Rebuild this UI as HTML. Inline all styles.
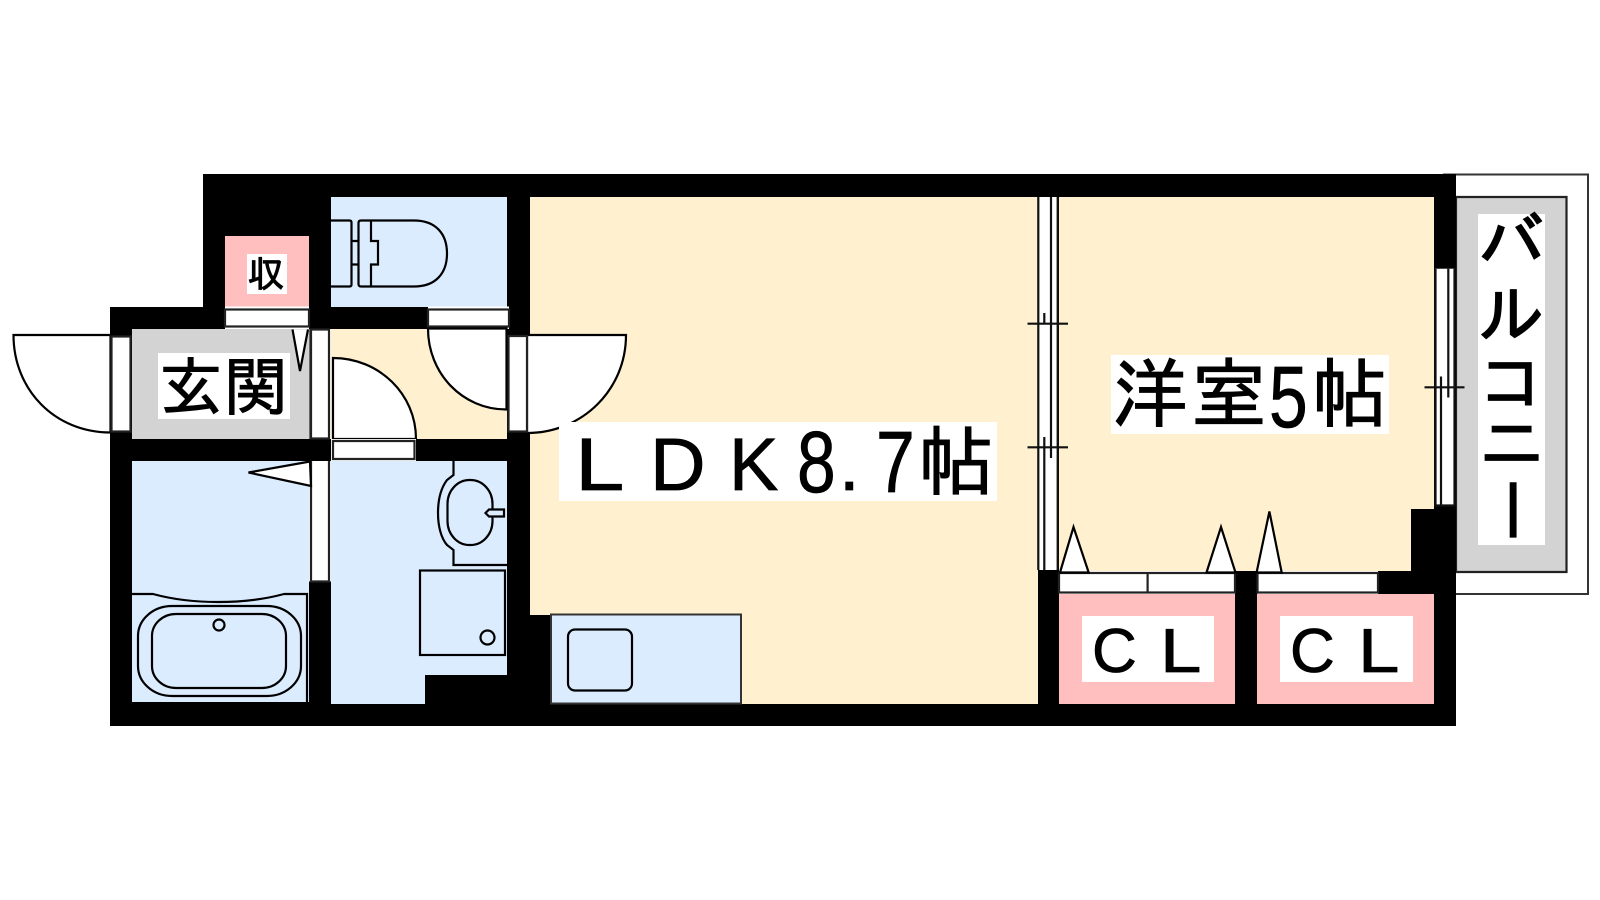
<!DOCTYPE html>
<html><head><meta charset="utf-8"><style>
html,body{margin:0;padding:0;background:#fff}
svg{display:block}
.j{font-family:"IPAGothic","Noto Sans CJK JP",sans-serif;text-anchor:middle;fill:#000;stroke:#000;stroke-width:1}
.l{font-family:"Liberation Sans",sans-serif;fill:#000;stroke:#000;stroke-width:.8}
.s{fill:none;stroke:#000;stroke-width:2.2}
.f{stroke:#222;stroke-width:2.2;fill:#fff}
.b{fill:#dcecff;stroke:#000;stroke-width:2.2}
</style></head><body>
<svg width="1600" height="900" viewBox="0 0 1600 900" xmlns="http://www.w3.org/2000/svg">
<rect width="1600" height="900" fill="#fff"/>

<!-- balcony -->
<path d="M1443 174.5H1588V594H1456" fill="#fff" stroke="#333" stroke-width="2"/>
<path d="M1456 197H1566.5V572H1456Z" fill="#d3d3d3" stroke="#222" stroke-width="2.2"/>

<!-- rooms -->
<rect x="203" y="174" width="1253" height="533" fill="#000"/>
<rect x="110" y="307" width="100" height="418" fill="#000"/>
<rect x="110" y="704" width="1346" height="22" fill="#000"/>
<rect x="1434" y="174" width="22" height="552" fill="#000"/>

<rect x="331" y="197" width="176" height="110" fill="#dcecff"/>
<rect x="225" y="236" width="84" height="71" fill="#ffbfbf"/>
<rect x="132" y="329" width="177" height="110" fill="#d3d3d3"/>
<rect x="331" y="329" width="176" height="110" fill="#fff0d0"/>
<rect x="132" y="461" width="177" height="241" fill="#dcecff"/>
<path d="M331 461H507V675H425V704H331Z" fill="#dcecff"/>
<path d="M530 197H1038V704H551V615H530Z" fill="#fff0d0"/>
<path d="M1059 197H1434V509H1411V571H1059Z" fill="#fff0d0"/>
<rect x="1059" y="594" width="176" height="110" fill="#ffbfbf"/>
<rect x="1257" y="594" width="177" height="110" fill="#ffbfbf"/>

<!-- kitchen -->
<rect x="551" y="614.5" width="190" height="89" fill="#dcecff" stroke="#333" stroke-width="2"/>
<rect x="568" y="629.5" width="64" height="61" rx="7" ry="7" class="b"/>

<!-- toilet -->
<path d="M331 220.5H349.5Q351.5 220.5 351.5 222.5V284.5Q351.5 286.5 349.5 286.5H331" class="b"/>
<path d="M351.5 241H358.5M351.5 264.5H358.5" class="s"/>
<path d="M361 220.5H414C436 220.5 447 234 447 253.5C447 273 436 286.5 414 286.5H361Q358.5 286.5 358.5 284V223Q358.5 220.5 361 220.5Z" class="b"/>
<path d="M371 220.5V241H378V264.5H371V286.5" class="s"/>

<!-- bath -->
<path d="M132 594H153C175 600 195 602 218 602C241 602 262 600 284 594H307V702" class="s"/>
<rect x="138" y="606" width="163" height="90" rx="34" ry="30" class="s"/>
<rect x="152" y="614" width="134" height="74" rx="24" ry="22" class="s"/>
<ellipse cx="219" cy="625" rx="5.5" ry="5.5" class="s"/>

<!-- vanity -->
<path d="M453.5 461V475L447 480C441 488 438 500 438 513C438 526 441 538 447 545L453.5 550V565H507" class="s"/>
<rect x="447.5" y="480" width="45" height="65" rx="22" ry="24" class="s"/>
<path d="M504 509.5H489L485.5 513L489 516.5H504Z" fill="#dcecff" stroke="#000" stroke-width="2.2"/>
<rect x="420" y="570.5" width="85" height="84.5" class="s"/>
<ellipse cx="487.5" cy="637.5" rx="7" ry="7" class="s"/>

<!-- entrance door -->
<path d="M110.5 335H13.5C13.5 390 55 432.5 110.5 432.5Z" class="f" style="stroke:#000"/>
<rect x="111.5" y="336.5" width="19" height="95" class="f"/>
<!-- LDK door -->
<path d="M527 335H626C626 390 582 433 527 433Z" class="f" style="stroke:#000"/>
<rect x="508.5" y="336" width="18.5" height="95.5" class="f"/>
<!-- storage door -->
<rect x="225" y="306.5" width="84" height="22.5" fill="#fff"/>
<rect x="225" y="309.5" width="84" height="17" class="f"/>
<path d="M292.5 329.5L300 371L308 329.5" fill="#fff" stroke="#000" stroke-width="2.2"/>
<!-- toilet door -->
<rect x="428" y="306.5" width="81" height="22.5" fill="#fff"/>
<rect x="428" y="309.5" width="81" height="17" class="f"/>
<path d="M428 328.5H506.5V409.5C462 409.5 428 373 428 328.5Z" fill="#fff" stroke="#000" stroke-width="2.2"/>
<!-- hall door between entrance -->
<rect x="309.5" y="329" width="21.5" height="110" fill="#fff"/>
<rect x="311" y="329.5" width="18" height="109" class="f"/>
<!-- hall lower door -->
<path d="M333 358C379 358 416 394 416 439H333Z" fill="#fff" stroke="#000" stroke-width="2.2"/>
<rect x="331" y="439" width="85" height="22" fill="#fff"/>
<path d="M333 441H414.5V459H333Z" class="f"/>
<!-- bath door -->
<rect x="309" y="461" width="22" height="120.5" fill="#fff"/>
<path d="M311 461V581.5H329V461" class="f"/>
<path d="M310 461.5L248.5 472.5L311 486Z" fill="#fff" stroke="#000" stroke-width="2.2"/>

<!-- sliding door LDK / western -->
<rect x="1038" y="197" width="20" height="373" fill="#fff"/>
<path d="M1038.3 197V570M1057.7 197V570M1051 197V458M1044.3 313V324M1044.3 437V570M1027.5 323.7H1068M1027.5 447.3H1068" fill="none" stroke="#111" stroke-width="2.2"/>
<!-- balcony window -->
<rect x="1435" y="268.7" width="20" height="237" fill="#fff"/>
<path d="M1435.5 268.7V506M1454.5 268.7V506M1448.3 268.7V397.5M1441 376.5V506M1424.5 387.3H1464.5M1435 505.5H1454.5" fill="none" stroke="#111" stroke-width="2.2"/>

<!-- closets -->
<rect x="1059" y="571" width="176" height="23" fill="#fff"/>
<rect x="1059" y="573" width="176" height="19.5" class="f"/>
<path d="M1147.6 572V593" stroke="#222" stroke-width="2.2"/>
<rect x="1257.5" y="571" width="120.5" height="23" fill="#fff"/>
<rect x="1257.5" y="573" width="120.5" height="19.5" class="f"/>
<path d="M1060 572.5L1073.5 527L1088.7 572.5Z M1206.5 572.5L1221 527L1235.5 572.5Z M1256.6 572.5L1269.4 511.5L1281.7 572.5Z" fill="#fff" stroke="#000" stroke-width="2.2"/>

<!-- labels -->
<rect x="247" y="254" width="40" height="40" fill="#fff"/>
<text x="266" y="287" class="j" font-size="37">収</text>

<rect x="158" y="353" width="132" height="66" fill="#fff"/>
<text x="191" y="410" class="j" font-size="64">玄</text>
<text x="256" y="410" class="j" font-size="64">関</text>

<rect x="559" y="422" width="438" height="79" fill="#fff"/>
<text transform="translate(575 490) scale(1.2 1)" class="l" font-size="74">L</text>
<text transform="translate(650 490) scale(1.04 1)" class="l" font-size="74">D</text>
<text x="729" y="490" class="l" font-size="74">K</text>
<text transform="translate(797 492) scale(.8 1)" class="l" font-size="87">8</text>
<text x="839" y="490" class="l" font-size="74">.</text>
<text transform="translate(876 492) scale(.8 1)" class="l" font-size="87">7</text>
<text x="956" y="489" class="j" font-size="76">帖</text>

<rect x="1111" y="355" width="278" height="79" fill="#fff"/>
<text x="1150" y="421" class="j" font-size="76">洋</text>
<text x="1229" y="421" class="j" font-size="76">室</text>
<text transform="translate(1269 427) scale(.8 1)" class="l" font-size="87">5</text>
<text x="1349.5" y="421" class="j" font-size="76">帖</text>

<rect x="1082" y="616" width="132" height="66" fill="#fff"/>
<text x="1092" y="672" class="l" font-size="62">C</text>
<text transform="translate(1160 672) scale(1.2 1)" class="l" font-size="62">L</text>
<rect x="1280" y="616" width="133" height="66" fill="#fff"/>
<text x="1290" y="672" class="l" font-size="62">C</text>
<text transform="translate(1358 672) scale(1.2 1)" class="l" font-size="62">L</text>

<rect x="1478" y="214" width="67" height="331" fill="#fff"/>
<text x="1511.5" y="266" class="j" font-size="66" style="stroke-width:1.6">バ</text>
<text x="1511.5" y="338" class="j" font-size="66" style="stroke-width:1.6">ル</text>
<text x="1511.5" y="406" class="j" font-size="66" style="stroke-width:1.6">コ</text>
<text x="1511.5" y="467" class="j" font-size="66" style="stroke-width:1.6">ニ</text>
<text transform="rotate(90 1511 510)" x="1511" y="533" class="j" font-size="66" style="stroke-width:1.6">ー</text>
</svg>
</body></html>
